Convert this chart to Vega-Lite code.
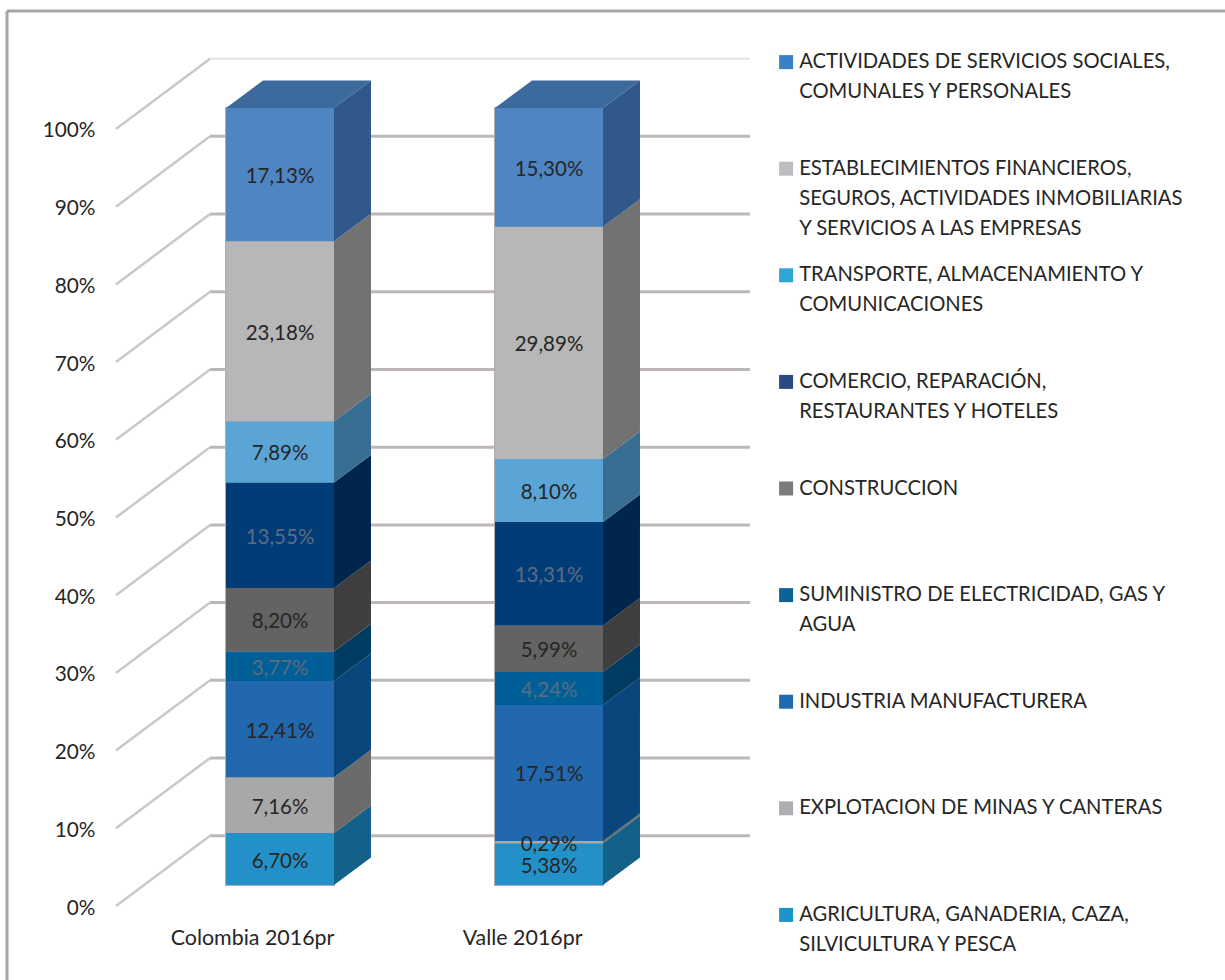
{
"$schema":"https://vega.github.io/schema/vega-lite/v6.json",
"width":1225,"height":980,"padding":0,
"autosize":{"type":"none"},
"background":"white",
"config":{"view":{"stroke":null},"font":"Lato","style":{"guide-label":{"lineHeight":30}}},
"data":{"values":[
{"group":"Colombia 2016pr","rank":1,"sector":"AGRICULTURA, GANADERIA, CAZA, SILVICULTURA Y PESCA","value":6.70},
{"group":"Colombia 2016pr","rank":2,"sector":"EXPLOTACION DE MINAS Y CANTERAS","value":7.16},
{"group":"Colombia 2016pr","rank":3,"sector":"INDUSTRIA MANUFACTURERA","value":12.41},
{"group":"Colombia 2016pr","rank":4,"sector":"SUMINISTRO DE ELECTRICIDAD, GAS Y AGUA","value":3.77},
{"group":"Colombia 2016pr","rank":5,"sector":"CONSTRUCCION","value":8.20},
{"group":"Colombia 2016pr","rank":6,"sector":"COMERCIO, REPARACIÓN, RESTAURANTES Y HOTELES","value":13.55},
{"group":"Colombia 2016pr","rank":7,"sector":"TRANSPORTE, ALMACENAMIENTO Y COMUNICACIONES","value":7.89},
{"group":"Colombia 2016pr","rank":8,"sector":"ESTABLECIMIENTOS FINANCIEROS, SEGUROS, ACTIVIDADES INMOBILIARIAS Y SERVICIOS A LAS EMPRESAS","value":23.18},
{"group":"Colombia 2016pr","rank":9,"sector":"ACTIVIDADES DE SERVICIOS SOCIALES, COMUNALES Y PERSONALES","value":17.13},
{"group":"Valle 2016pr","rank":1,"sector":"AGRICULTURA, GANADERIA, CAZA, SILVICULTURA Y PESCA","value":5.38},
{"group":"Valle 2016pr","rank":2,"sector":"EXPLOTACION DE MINAS Y CANTERAS","value":0.29},
{"group":"Valle 2016pr","rank":3,"sector":"INDUSTRIA MANUFACTURERA","value":17.51},
{"group":"Valle 2016pr","rank":4,"sector":"SUMINISTRO DE ELECTRICIDAD, GAS Y AGUA","value":4.24},
{"group":"Valle 2016pr","rank":5,"sector":"CONSTRUCCION","value":5.99},
{"group":"Valle 2016pr","rank":6,"sector":"COMERCIO, REPARACIÓN, RESTAURANTES Y HOTELES","value":13.31},
{"group":"Valle 2016pr","rank":7,"sector":"TRANSPORTE, ALMACENAMIENTO Y COMUNICACIONES","value":8.10},
{"group":"Valle 2016pr","rank":8,"sector":"ESTABLECIMIENTOS FINANCIEROS, SEGUROS, ACTIVIDADES INMOBILIARIAS Y SERVICIOS A LAS EMPRESAS","value":29.89},
{"group":"Valle 2016pr","rank":9,"sector":"ACTIVIDADES DE SERVICIOS SOCIALES, COMUNALES Y PERSONALES","value":15.30}
]},
"transform":[
{"stack":"value","groupby":["group"],"sort":[{"field":"rank","order":"ascending"}],"as":["s0","s1"]},
{"calculate":"datum.group==='Colombia 2016pr'?1:2","as":"pos"},
{"calculate":"datum.s0+2.7","as":"lo"},
{"calculate":"datum.s1+2.7","as":"hi"},
{"calculate":"(datum.lo+datum.hi)/2","as":"mid"},
{"calculate":"datum.pos-0.2007","as":"xl"},
{"calculate":"datum.pos+0.2007","as":"xr"},
{"calculate":"replace(format(datum.value,'.2f'),'.',',')+'%'","as":"label"}
],
"layer":[
{"data":{"values":[{"tick":0},{"tick":10},{"tick":20},{"tick":30},{"tick":40},{"tick":50},{"tick":60},{"tick":70},{"tick":80},{"tick":90},{"tick":100}]},
 "transform":[{"calculate":"datum.tick+9.05","as":"wall"}],
 "mark":{"type":"rule","color":"#c9c9c9","strokeWidth":2.5},
 "encoding":{
  "x":{"datum":0.39,"type":"quantitative","scale":{"domain":[-0.0409,4.513],"nice":false,"zero":false},
   "axis":{"orient":"bottom","offset":-42,"values":[0.896,1.9],"labelExpr":"datum.value<1.4?'Colombia 2016pr':'Valle 2016pr'","grid":false,"domain":false,"ticks":false,"labelPadding":0,"title":null,"labelFont":"Lato","labelFontSize":21.4,"labelColor":"#262626","labelBaseline":"middle","labelFlush":false,"labelOverlap":false}},
  "x2":{"datum":0.74},
  "y":{"field":"tick","type":"quantitative","scale":{"domain":[-9.52,116.6],"nice":false,"zero":false},
   "axis":{"orient":"left","offset":-95,"values":[0,10,20,30,40,50,60,70,80,90,100],"labelExpr":"datum.value+'%'","grid":false,"domain":false,"ticks":false,"labelPadding":0,"labelOffset":2,"title":null,"labelFont":"Lato","labelFontSize":20.8,"labelColor":"#262626","labelFlush":false,"labelOverlap":false}},
  "y2":{"field":"wall"}
 }},
{"data":{"values":[{"tick":0},{"tick":10},{"tick":20},{"tick":30},{"tick":40},{"tick":50},{"tick":60},{"tick":70},{"tick":80},{"tick":90}]},
 "transform":[{"calculate":"datum.tick+9.05","as":"wall"}],
 "mark":{"type":"rule","color":"#bdb7b7","strokeWidth":3},
 "encoding":{
  "x":{"datum":0.74,"type":"quantitative","scale":{"domain":[-0.0409,4.513],"nice":false,"zero":false},"axis":null},
  "x2":{"datum":2.747},
  "y":{"field":"wall","type":"quantitative","scale":{"domain":[-9.52,116.6],"nice":false,"zero":false},"axis":null}
 }},
{"data":{"values":[{"tick":100}]},
 "transform":[{"calculate":"datum.tick+9.05","as":"wall"}],
 "mark":{"type":"rule","color":"#e2e2e2","strokeWidth":2},
 "encoding":{
  "x":{"datum":0.74,"type":"quantitative","scale":{"domain":[-0.0409,4.513],"nice":false,"zero":false},"axis":null},
  "x2":{"datum":2.747},
  "y":{"field":"wall","type":"quantitative","scale":{"domain":[-9.52,116.6],"nice":false,"zero":false},"axis":null}
 }},
{"mark":{"type":"rect","stroke":"#b3abad","strokeWidth":2},
 "encoding":{
  "x":{"field":"xl","type":"quantitative","scale":{"domain":[-0.0409,4.513],"nice":false,"zero":false},"axis":null},
  "x2":{"field":"xr"},
  "y":{"field":"lo","type":"quantitative","scale":{"domain":[-9.52,116.6],"nice":false,"zero":false},"axis":null},
  "y2":{"field":"hi"},
  "fill":{"field":"sector","type":"nominal",
   "scale":{"domain":["ACTIVIDADES DE SERVICIOS SOCIALES, COMUNALES Y PERSONALES","ESTABLECIMIENTOS FINANCIEROS, SEGUROS, ACTIVIDADES INMOBILIARIAS Y SERVICIOS A LAS EMPRESAS","TRANSPORTE, ALMACENAMIENTO Y COMUNICACIONES","COMERCIO, REPARACIÓN, RESTAURANTES Y HOTELES","CONSTRUCCION","SUMINISTRO DE ELECTRICIDAD, GAS Y AGUA","INDUSTRIA MANUFACTURERA","EXPLOTACION DE MINAS Y CANTERAS","AGRICULTURA, GANADERIA, CAZA, SILVICULTURA Y PESCA"],
    "range":["#3A80C4","#BDBEC2","#2EA5D3","#2B4A82","#7B7B7E","#0F6296","#1F6BAE","#AEAEB2","#1B94C8"]},
   "legend":{"orient":"none","legendX":776,"legendY":52,"title":null,"columns":1,"symbolType":"square","symbolSize":196,"symbolStrokeWidth":0,"symbolOpacity":1,"labelFont":"Lato","labelFontSize":20.2,"labelColor":"#262626","labelLimit":440,"labelOffset":3,"rowPadding":25.6,"gridAlign":"all",
    "labelExpr":"split(replace(replace(replace(replace(replace(replace(replace(datum.label,' COMUNALES','|COMUNALES'),' SEGUROS','|SEGUROS'),' Y SERVICIOS','|Y SERVICIOS'),' COMUNICACIONES','|COMUNICACIONES'),' RESTAURANTES','|RESTAURANTES'),' AGUA','|AGUA'),' SILVICULTURA','|SILVICULTURA'),'|')"}}
 }},
{"transform":[{"calculate":"[0,1]","as":"d"},{"flatten":["d"]},
 {"calculate":"datum.xr+datum.d*0.1375","as":"sx"},
 {"calculate":"datum.lo+datum.d*3.54","as":"sl"},
 {"calculate":"datum.hi+datum.d*3.54","as":"sh"}],
 "mark":{"type":"area","orient":"vertical"},
 "encoding":{
  "x":{"field":"sx","type":"quantitative","scale":{"domain":[-0.0409,4.513],"nice":false,"zero":false},"axis":null},
  "y":{"field":"sl","type":"quantitative","stack":null,"scale":{"domain":[-9.52,116.6],"nice":false,"zero":false},"axis":null},
  "y2":{"field":"sh"},
  "detail":{"field":"group"},
  "fill":{"field":"sector","type":"nominal","legend":null,
   "scale":{"domain":["ACTIVIDADES DE SERVICIOS SOCIALES, COMUNALES Y PERSONALES","ESTABLECIMIENTOS FINANCIEROS, SEGUROS, ACTIVIDADES INMOBILIARIAS Y SERVICIOS A LAS EMPRESAS","TRANSPORTE, ALMACENAMIENTO Y COMUNICACIONES","COMERCIO, REPARACIÓN, RESTAURANTES Y HOTELES","CONSTRUCCION","SUMINISTRO DE ELECTRICIDAD, GAS Y AGUA","INDUSTRIA MANUFACTURERA","EXPLOTACION DE MINAS Y CANTERAS","AGRICULTURA, GANADERIA, CAZA, SILVICULTURA Y PESCA"],
    "range":["#30588A","#727272","#376E92","#00264D","#3E3E3E","#003C62","#0A457C","#6B6B6B","#136089"]}}
 }},
{"transform":[{"filter":"datum.rank===9"},{"calculate":"[0,1]","as":"d"},{"flatten":["d"]},
 {"calculate":"datum.xl+datum.d*0.1375","as":"tl"},
 {"calculate":"datum.xr+datum.d*0.1375","as":"tr"},
 {"calculate":"datum.hi+datum.d*3.54","as":"ty"}],
 "mark":{"type":"area","orient":"horizontal","color":"#3D6A9D"},
 "encoding":{
  "y":{"field":"ty","type":"quantitative","scale":{"domain":[-9.52,116.6],"nice":false,"zero":false},"axis":null},
  "x":{"field":"tl","type":"quantitative","stack":null,"scale":{"domain":[-0.0409,4.513],"nice":false,"zero":false},"axis":null},
  "x2":{"field":"tr"},
  "detail":{"field":"group"}
 }},
{"mark":{"type":"rect"},
 "encoding":{
  "x":{"field":"xl","type":"quantitative","scale":{"domain":[-0.0409,4.513],"nice":false,"zero":false},"axis":null},
  "x2":{"field":"xr"},
  "y":{"field":"lo","type":"quantitative","scale":{"domain":[-9.52,116.6],"nice":false,"zero":false},"axis":null},
  "y2":{"field":"hi"},
  "fill":{"field":"sector","type":"nominal","legend":null,
   "scale":{"domain":["ACTIVIDADES DE SERVICIOS SOCIALES, COMUNALES Y PERSONALES","ESTABLECIMIENTOS FINANCIEROS, SEGUROS, ACTIVIDADES INMOBILIARIAS Y SERVICIOS A LAS EMPRESAS","TRANSPORTE, ALMACENAMIENTO Y COMUNICACIONES","COMERCIO, REPARACIÓN, RESTAURANTES Y HOTELES","CONSTRUCCION","SUMINISTRO DE ELECTRICIDAD, GAS Y AGUA","INDUSTRIA MANUFACTURERA","EXPLOTACION DE MINAS Y CANTERAS","AGRICULTURA, GANADERIA, CAZA, SILVICULTURA Y PESCA"],
    "range":["#4F85C2","#B7B7B7","#5BA5D6","#003D78","#636363","#005F97","#2268AE","#A8A8A8","#2391C8"]}}
 }},
{"mark":{"type":"text","font":"Lato","fontSize":20.5,"align":"center","baseline":"middle","dy":2.5},
 "encoding":{
  "x":{"field":"pos","type":"quantitative","scale":{"domain":[-0.0409,4.513],"nice":false,"zero":false},"axis":null},
  "y":{"field":"mid","type":"quantitative","scale":{"domain":[-9.52,116.6],"nice":false,"zero":false},"axis":null},
  "text":{"field":"label"},
  "color":{"condition":{"test":"datum.rank===4||datum.rank===6","value":"#5D6B80"},"value":"#262626"}
 }},
{"data":{"values":[{"frame":"border"}]},
 "mark":{"type":"rule","color":"#a5a5a5","strokeWidth":3},
 "encoding":{
  "x":{"datum":-0.0148,"type":"quantitative","scale":{"domain":[-0.0409,4.513],"nice":false,"zero":false},"axis":null},
  "x2":{"datum":4.513},
  "y":{"datum":115.2,"type":"quantitative","scale":{"domain":[-9.52,116.6],"nice":false,"zero":false},"axis":null}
 }},
{"data":{"values":[{"frame":"border"}]},
 "mark":{"type":"rule","color":"#a5a5a5","strokeWidth":3},
 "encoding":{
  "x":{"datum":-0.0148,"type":"quantitative","scale":{"domain":[-0.0409,4.513],"nice":false,"zero":false},"axis":null},
  "y":{"datum":115.2,"type":"quantitative","scale":{"domain":[-9.52,116.6],"nice":false,"zero":false},"axis":null},
  "y2":{"datum":-9.52}
 }}
],
"resolve":{"scale":{"fill":"independent"},"axis":{"x":"independent","y":"independent"}}
}
